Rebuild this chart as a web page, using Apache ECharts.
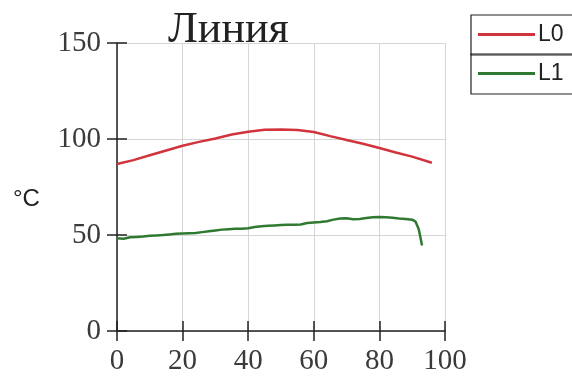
<!DOCTYPE html>
<html>
<head>
<meta charset="utf-8">
<script src="https://cdn.jsdelivr.net/npm/echarts@6/dist/echarts.min.js"></script>
<style>
  html, body { margin: 0; padding: 0; background: #fff; }
  #chart { width: 572px; height: 377px; }
</style>
</head>
<body>
<div id="chart"></div>
<script>
const titleText = 'Линия'
const unitLabel = '°C'
const seriesNames = ['L0', 'L1']

// [x, °C]
const l0Points = [
  [0, 87], [5, 89], [10, 91.5], [15, 94], [20, 96.5], [25, 98.5], [30, 100.3],
  [35, 102.3], [40, 103.8], [45, 104.8], [50, 104.9], [55, 104.7], [60, 103.6],
  [65, 101.5], [70, 99.5], [75, 97.5], [80, 95.3], [85, 93], [90, 90.8], [96, 87.6],
]
const l1Points = [
  [0, 48.3], [2, 48], [4, 48.8], [6, 49], [8, 49.2], [10, 49.6], [12, 49.8],
  [14, 50], [16, 50.3], [18, 50.6], [20, 50.8], [22, 50.9], [24, 51], [26, 51.5],
  [28, 52], [30, 52.4], [32, 52.8], [34, 53], [36, 53.2], [38, 53.3], [40, 53.5],
  [42, 54.2], [44, 54.6], [46, 54.8], [48, 55], [50, 55.2], [52, 55.3], [54, 55.4],
  [56, 55.5], [58, 56.2], [60, 56.5], [62, 56.8], [64, 57.2], [66, 58], [68, 58.6],
  [70, 58.7], [72, 58.2], [74, 58.3], [76, 58.9], [78, 59.3], [80, 59.4], [82, 59.3],
  [84, 59], [86, 58.6], [88, 58.3], [90, 58], [91, 57], [92, 53], [93, 44.5],
]
const xTicks = { min: 0, max: 100, interval: 20 }
const yTicks = { min: 0, max: 150, interval: 50 }

const colors = ['#d1343c', '#2f7a30']
const serif = '"Liberation Serif", "DejaVu Serif", serif'
const sans = '"Liberation Sans", Arial, sans-serif'

const chart = echarts.init(document.getElementById('chart'))

const tickStyle = { color: '#222', width: 1.5 }
const gridLine = { lineStyle: { color: '#d6d6d6', width: 1 } }

chart.setOption({
  animation: false,
  title: {
    text: titleText,
    left: 163, top: 3,
    textStyle: { fontFamily: serif, fontSize: 44, fontWeight: 'normal', color: '#222' },
  },
  graphic: [{
    type: 'text', left: 13, top: 187,
    style: { text: unitLabel, font: '24px ' + sans, fill: '#222' },
  }],
  legend: [0, 1].map(i => ({
    data: [seriesNames[i]],
    left: 471, top: 15 + i * 39,
    orient: 'vertical',
    padding: [8, 60, 9, 7],
    icon: 'rect',
    itemWidth: 57, itemHeight: 3, itemGap: 0,
    borderColor: '#222', borderWidth: 1.2,
    textStyle: { fontFamily: sans, fontSize: 23, color: '#222', padding: [0, 0, 0, -2] },
    selectedMode: false,
  })),
  grid: { left: 117, right: 127, top: 43, bottom: 46, containLabel: false },
  xAxis: [
    {
      type: 'value', ...xTicks,
      axisLine: { lineStyle: { color: '#222', width: 1.5 } },
      axisTick: { show: true, length: 10, lineStyle: tickStyle },
      axisLabel: { fontFamily: serif, fontSize: 29, color: '#3a3a3a', margin: 16 },
      splitLine: gridLine,
    },
    {
      type: 'value', ...xTicks, position: 'bottom',
      axisLine: { show: false },
      axisTick: { show: true, inside: true, length: 10, lineStyle: tickStyle },
      axisLabel: { show: false }, splitLine: { show: false },
    },
  ],
  yAxis: [
    {
      type: 'value', ...yTicks,
      axisLine: { show: true, lineStyle: { color: '#222', width: 1.5 } },
      axisTick: { show: true, length: 10, lineStyle: tickStyle },
      axisLabel: { fontFamily: serif, fontSize: 29, color: '#3a3a3a', margin: 16 },
      splitLine: gridLine,
    },
    {
      type: 'value', ...yTicks, position: 'left',
      axisLine: { show: false },
      axisTick: { show: true, inside: true, length: 10, lineStyle: tickStyle },
      axisLabel: { show: false }, splitLine: { show: false },
    },
  ],
  series: [
    { name: seriesNames[0], type: 'line', data: l0Points, symbol: 'none', color: colors[0], lineStyle: { width: 2.5 } },
    { name: seriesNames[1], type: 'line', data: l1Points, symbol: 'none', color: colors[1], lineStyle: { width: 2.5 } },
  ],
})
</script>
</body>
</html>
